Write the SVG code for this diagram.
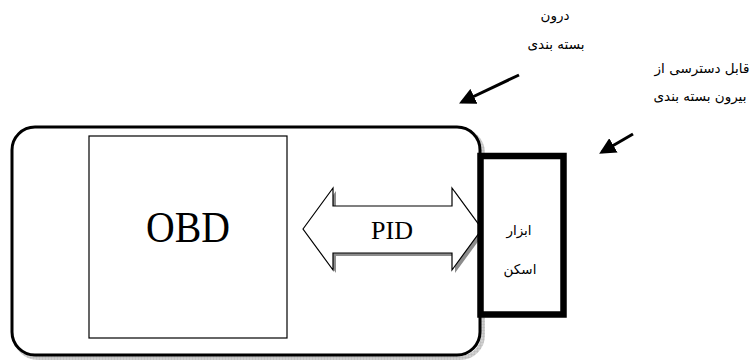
<svg xmlns="http://www.w3.org/2000/svg" width="752" height="364" viewBox="0 0 752 364">
  <defs>
    <style>
      .fa { font-family: "DejaVu Sans", "Noto Sans", sans-serif; font-size: 13.5px; fill: #000; text-anchor: middle; }
      .ser { font-family: "Liberation Serif", "Times New Roman", serif; fill: #000; text-anchor: middle; }
      .ptr { stroke: #000; stroke-width: 3; fill: none; marker-end: url(#ah); }
    </style>
    <marker id="ah" viewBox="0 0 10 10" refX="8" refY="5" markerWidth="5.5" markerHeight="5.5" orient="auto" markerUnits="strokeWidth">
      <path d="M0,0 L10,5 L0,10 Z" fill="#000"/>
    </marker>
    <pattern id="hatch" width="3" height="3" patternUnits="userSpaceOnUse">
      <rect width="3" height="3" fill="#d0d0d0"/>
      <path d="M0,0 H3 M0,0 V3" stroke="#a8a8a8" stroke-width="0.6"/>
    </pattern>
  </defs>
  <rect width="752" height="364" fill="#fff"/>

  <g id="package">
    <rect x="15" y="130" width="468" height="228" rx="23" fill="none" stroke="url(#hatch)" stroke-width="4"/>
    <rect x="12" y="127" width="468" height="228" rx="23" fill="#fff" stroke="#000" stroke-width="3"/>
  </g>

  <g id="obd">
    <rect x="89" y="136" width="198" height="202" fill="#fff" stroke="#000" stroke-width="1.2"/>
    <text class="ser" x="188" y="242" font-size="45" textLength="84" lengthAdjust="spacingAndGlyphs">OBD</text>
  </g>

  <g id="pid">
    <polygon points="306,232 336,191 336,209 455,209 455,191 485,232 455,273 455,256 336,256 336,273" fill="#8c8c8c"/>
    <polygon points="303,229 333,188 333,206 452,206 452,188 482,229 452,270 452,253 333,253 333,270" fill="#fff" stroke="#000" stroke-width="1.2" stroke-linejoin="miter"/>
    <text class="ser" x="392" y="239" font-size="26">PID</text>
  </g>

  <g id="scan-tool">
    <rect x="480.5" y="156" width="83" height="158.5" fill="#fff" stroke="#000" stroke-width="6.5"/>
    <text class="fa" x="519" y="235">ابزار</text>
    <text class="fa" x="520" y="274">اسکن</text>
  </g>

  <g id="label-inside">
    <text class="fa" x="555" y="20">درون</text>
    <text class="fa" x="556" y="49">بسته بندی</text>
  </g>

  <g id="label-outside">
    <text class="fa" x="702" y="73">قابل دسترسی از</text>
    <text class="fa" x="700" y="101">بیرون بسته بندی</text>
  </g>

  <g id="connectors">
    <line class="ptr" x1="519" y1="75" x2="462" y2="102"/>
    <line class="ptr" x1="633" y1="134" x2="602" y2="152"/>
  </g>
</svg>
